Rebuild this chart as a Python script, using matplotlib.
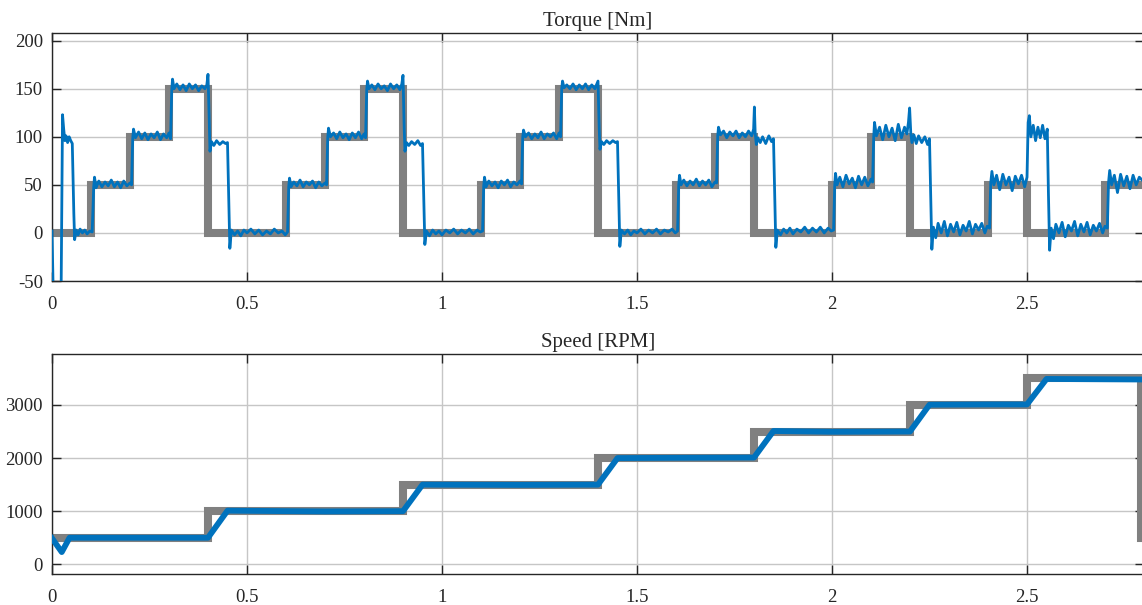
import numpy as np
import matplotlib
matplotlib.use("Agg")
import matplotlib.pyplot as plt

plt.rcParams['font.family'] = ['Liberation Serif', 'DejaVu Serif']
plt.rcParams['axes.unicode_minus'] = False

# torque reference (step, value holds until next time)
torque_ref_t = [0, 0.1, 0.2, 0.3, 0.4, 0.6, 0.7, 0.8, 0.9, 1.1, 1.2, 1.3, 1.4,
                1.6, 1.7, 1.8, 2.0, 2.1, 2.2, 2.4, 2.5, 2.7, 2.81]
torque_ref = [0, 50, 100, 150, 0, 50, 100, 150, 0, 50, 100, 150, 0,
              50, 100, 0, 50, 100, 0, 50, 0, 50, 50]

# speed reference
speed_ref_t = [0, 0.4, 0.9, 1.4, 1.8, 2.2, 2.5, 2.793, 2.81]
speed_ref = [500, 1000, 1500, 2000, 2500, 3000, 3500, 500, 500]

torque_t = [
    0.000, 0.004, 0.023, 0.027, 0.030, 0.033, 0.036, 0.040, 0.044, 0.048, 0.052, 0.056, 0.058,
    0.062, 0.067, 0.072, 0.078, 0.084, 0.090, 0.097, 0.103,
    0.107, 0.109, 0.113, 0.120, 0.128, 0.136, 0.144, 0.152, 0.160, 0.168, 0.176, 0.184, 0.192, 0.200, 0.204,
    0.207, 0.209, 0.214, 0.222, 0.230, 0.238, 0.246, 0.254, 0.262, 0.270, 0.278, 0.286, 0.294, 0.300, 0.304,
    0.307, 0.309, 0.313, 0.320, 0.328, 0.336, 0.344, 0.352, 0.360, 0.368, 0.376, 0.384, 0.392, 0.397, 0.400,
    0.403, 0.405, 0.409, 0.415, 0.422, 0.430, 0.438, 0.445, 0.450, 0.453, 0.456, 0.460, 0.468, 0.476, 0.484,
    0.492, 0.500, 0.510, 0.520, 0.530, 0.540, 0.550, 0.560, 0.570, 0.580, 0.590, 0.598, 0.604,
    0.607, 0.609, 0.613, 0.620, 0.628, 0.636, 0.644, 0.652, 0.660, 0.668, 0.676, 0.684, 0.692, 0.700, 0.704,
    0.707, 0.709, 0.714, 0.722, 0.730, 0.738, 0.746, 0.754, 0.762, 0.770, 0.778, 0.786, 0.794, 0.800, 0.804,
    0.807, 0.809, 0.813, 0.820, 0.828, 0.836, 0.844, 0.852, 0.860, 0.868, 0.876, 0.884, 0.892, 0.897, 0.900,
    0.903, 0.905, 0.909, 0.915, 0.922, 0.930, 0.938, 0.945, 0.950, 0.953, 0.956, 0.960, 0.968, 0.976, 0.984,
    0.992, 1.000, 1.010, 1.020, 1.030, 1.040, 1.050, 1.060, 1.070, 1.080, 1.090, 1.098, 1.104,
    1.107, 1.109, 1.113, 1.120, 1.128, 1.136, 1.144, 1.152, 1.160, 1.168, 1.176, 1.184, 1.192, 1.200, 1.204,
    1.207, 1.209, 1.214, 1.222, 1.230, 1.238, 1.246, 1.254, 1.262, 1.270, 1.278, 1.286, 1.294, 1.300, 1.304,
    1.307, 1.309, 1.313, 1.320, 1.328, 1.336, 1.344, 1.352, 1.360, 1.368, 1.376, 1.384, 1.392, 1.397, 1.400,
    1.403, 1.405, 1.409, 1.415, 1.422, 1.430, 1.438, 1.445, 1.450, 1.453, 1.456, 1.460, 1.468, 1.476, 1.484,
    1.492, 1.500, 1.510, 1.520, 1.530, 1.540, 1.550, 1.560, 1.570, 1.580, 1.590, 1.598, 1.604,
    1.607, 1.609, 1.613, 1.620, 1.628, 1.636, 1.644, 1.652, 1.660, 1.668, 1.676, 1.684, 1.692, 1.700, 1.704,
    1.707, 1.709, 1.714, 1.722, 1.730, 1.738, 1.746, 1.754, 1.762, 1.770, 1.778, 1.786, 1.794, 1.799, 1.801,
    1.803, 1.806, 1.810, 1.816, 1.822, 1.830, 1.838, 1.845, 1.850, 1.853, 1.856, 1.860, 1.868, 1.876, 1.884,
    1.892, 1.900, 1.910, 1.920, 1.930, 1.940, 1.950, 1.960, 1.970, 1.980, 1.990, 1.998, 2.004,
    2.007, 2.009, 2.013, 2.020, 2.028, 2.036, 2.044, 2.052, 2.060, 2.068, 2.076, 2.084, 2.092, 2.100, 2.104,
    2.107, 2.109, 2.114, 2.122, 2.130, 2.138, 2.146, 2.154, 2.162, 2.170, 2.178, 2.186, 2.192, 2.196, 2.199,
    2.202, 2.205, 2.210, 2.216, 2.222, 2.230, 2.238, 2.245, 2.250, 2.253, 2.256, 2.260, 2.266, 2.272, 2.280,
    2.288, 2.296, 2.304, 2.312, 2.320, 2.328, 2.336, 2.344, 2.352, 2.360, 2.368, 2.376, 2.384, 2.392, 2.398, 2.404,
    2.407, 2.410, 2.415, 2.422, 2.430, 2.438, 2.446, 2.454, 2.462, 2.470, 2.478, 2.486, 2.494, 2.500,
    2.503, 2.506, 2.510, 2.516, 2.522, 2.528, 2.534, 2.540, 2.546, 2.552, 2.555, 2.558, 2.562, 2.568, 2.574,
    2.582, 2.590, 2.598, 2.606, 2.614, 2.622, 2.630, 2.638, 2.646, 2.654, 2.662, 2.670, 2.678, 2.686, 2.694,
    2.700, 2.706, 2.709, 2.712, 2.717, 2.724, 2.732, 2.740, 2.748, 2.756, 2.764, 2.772, 2.780, 2.788, 2.800,
]
torque = [
    2, -80, -80, 123, 108, 96, 101, 94, 100, 96, 93, 20, -7,
    3, -2, 4, 0, 3, -1, 2, 1,
    48, 58, 47, 54, 48, 53, 49, 55, 48, 53, 47, 54, 49, 52, 50,
    98, 108, 99, 105, 98, 104, 97, 103, 99, 105, 97, 103, 99, 104, 98,
    148, 160, 150, 155, 149, 154, 148, 155, 150, 154, 148, 153, 150, 154, 165,
    120, 85, 95, 91, 96, 92, 95, 93, 94, 40, -16, 3, -2, 2, -3,
    3, 0, 4, -1, 3, -2, 2, -1, 4, 0, 2, -2, 1,
    48, 57, 48, 53, 49, 55, 48, 53, 50, 54, 47, 53, 49, 52, 50,
    99, 109, 100, 104, 98, 105, 99, 103, 97, 104, 99, 105, 98, 103, 99,
    149, 158, 150, 154, 149, 155, 150, 153, 148, 155, 150, 154, 149, 155, 164,
    110, 85, 94, 91, 95, 92, 96, 91, 93, 40, -12, 2, -3, 3, -1,
    2, -2, 3, 0, 4, -1, 3, 0, 4, -1, 3, 1, 2,
    49, 58, 48, 54, 49, 53, 47, 54, 50, 55, 48, 53, 50, 54, 51,
    99, 107, 100, 104, 98, 103, 99, 105, 98, 103, 100, 104, 98, 104, 100,
    150, 158, 151, 154, 150, 155, 149, 154, 150, 155, 149, 154, 150, 155, 158,
    110, 87, 95, 92, 96, 93, 96, 94, 95, 40, -14, 3, -1, 3, -2,
    2, 0, 4, -1, 3, 0, 4, -1, 3, 1, 4, 0, 2,
    50, 60, 50, 55, 49, 54, 50, 56, 49, 54, 50, 55, 48, 53, 52,
    101, 110, 102, 106, 99, 105, 101, 106, 99, 104, 100, 106, 101, 108, 131,
    104, 92, 99, 94, 100, 93, 101, 95, 98, 40, -15, 3, -2, 4, 0,
    5, -1, 4, 1, 6, 0, 5, 1, 6, 0, 5, 2, 3,
    50, 62, 50, 58, 48, 60, 51, 57, 47, 59, 50, 58, 49, 56, 53,
    100, 115, 101, 110, 97, 112, 100, 109, 96, 113, 99, 110, 103, 115, 130,
    104, 94, 102, 93, 101, 94, 100, 92, 98, 40, -17, 6, -5, 10, 0,
    12, -3, 9, 1, 11, -2, 8, 2, 12, -1, 9, 3, 10, 0, 7, 5,
    52, 64, 50, 60, 45, 61, 50, 58, 44, 59, 51, 60, 48, 58,
    115, 122, 100, 112, 96, 110, 99, 112, 98, 108, 40, -18, 5, -6, 9,
    0, 11, -4, 8, 2, 12, -3, 9, 1, 11, -2, 8, 2, 10, 0,
    7, 5, 52, 65, 50, 60, 42, 61, 49, 59, 46, 60, 50, 58, 53,
]

# measured speed
speed_t = [0, 0.025, 0.045, 0.2, 0.4, 0.45, 0.7, 0.9, 0.95, 1.2, 1.4, 1.45,
           1.6, 1.8, 1.85, 2.0, 2.2, 2.25, 2.4, 2.5, 2.55, 2.80]
speed = [490, 230, 500, 500, 500, 1010, 995, 1000, 1500, 1495, 1500, 2000,
         2005, 2010, 2510, 2495, 2500, 3005, 3010, 3010, 3490, 3480]

ref_color = '#808080'
meas_color = '#0072BD'
axis_color = '#262626'

fig = plt.figure(figsize=(11.42, 6.05), dpi=100)
W, H = 1142.0, 605.0
# right edge of the axes sits just outside the picture, as in the reference
ax1 = fig.add_axes([52 / W, 1 - 281 / H, (1144 - 52) / W, (281 - 33) / H])
ax2 = fig.add_axes([52 / W, 1 - 574 / H, (1144 - 52) / W, (574 - 354) / H])

ax1.plot(torque_ref_t, torque_ref, drawstyle='steps-post', color=ref_color,
         lw=5.8, solid_joinstyle='miter', zorder=2)
ax1.plot(torque_t, torque, color=meas_color, lw=2.0, zorder=3)
ax1.set_ylim(-50, 208)
ax1.set_yticks([-50, 0, 50, 100, 150, 200])
ax1.set_title('Torque [Nm]', fontsize=15, color=axis_color, pad=5)

ax2.plot(speed_ref_t, speed_ref, drawstyle='steps-post', color=ref_color,
         lw=5.8, solid_joinstyle='miter', zorder=2)
ax2.plot(speed_t, speed, color=meas_color, lw=4.2, zorder=3)
ax2.set_ylim(-183, 3960)
ax2.set_yticks([0, 1000, 2000, 3000])
ax2.set_title('Speed [RPM]', fontsize=15, color=axis_color, pad=5)

for ax in (ax1, ax2):
    ax.set_xlim(0, 2.8)
    ax.set_xticks([0, 0.5, 1, 1.5, 2, 2.5])
    ax.set_xticklabels(['0', '0.5', '1', '1.5', '2', '2.5'])
    ax.grid(True, color='#c6c6c6', lw=1.0, zorder=0)
    ax.set_axisbelow(True)
    ax.tick_params(direction='in', length=6.5, width=1.0, top=True, right=True,
                   labelsize=13.5, colors=axis_color)
    ax.tick_params(axis='x', pad=10.5)
    ax.tick_params(axis='y', pad=6.5)
    for s in ax.spines.values():
        s.set_color(axis_color)
        s.set_linewidth(1.0)

fig.savefig('out.png', dpi=100)
